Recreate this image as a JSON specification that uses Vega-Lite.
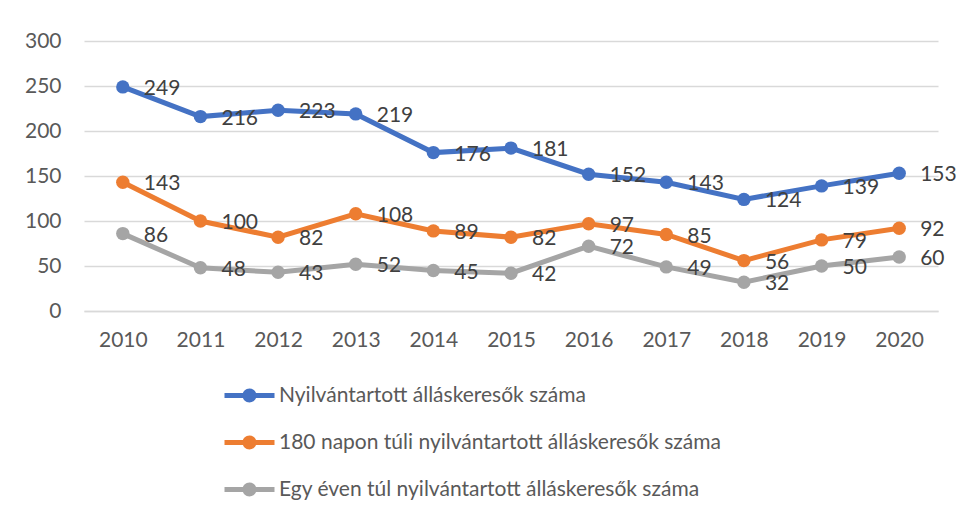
{
  "$schema": "https://vega.github.io/schema/vega-lite/v6.json",
  "width": 854,
  "height": 270,
  "autosize": "none",
  "padding": {"left": 84, "top": 41, "right": 18, "bottom": 202},
  "background": "white",
  "config": {
    "view": {"stroke": null},
    "font": "Lato",
    "axis": {"labelFont": "Lato", "labelFontSize": 21, "labelColor": "#595959", "ticks": false, "title": null}
  },
  "data": {
    "values": [
      {"year": "2010", "series": "Nyilvántartott álláskeresők száma", "value": 249},
      {"year": "2011", "series": "Nyilvántartott álláskeresők száma", "value": 216},
      {"year": "2012", "series": "Nyilvántartott álláskeresők száma", "value": 223},
      {"year": "2013", "series": "Nyilvántartott álláskeresők száma", "value": 219},
      {"year": "2014", "series": "Nyilvántartott álláskeresők száma", "value": 176},
      {"year": "2015", "series": "Nyilvántartott álláskeresők száma", "value": 181},
      {"year": "2016", "series": "Nyilvántartott álláskeresők száma", "value": 152},
      {"year": "2017", "series": "Nyilvántartott álláskeresők száma", "value": 143},
      {"year": "2018", "series": "Nyilvántartott álláskeresők száma", "value": 124},
      {"year": "2019", "series": "Nyilvántartott álláskeresők száma", "value": 139},
      {"year": "2020", "series": "Nyilvántartott álláskeresők száma", "value": 153},
      {"year": "2010", "series": "180 napon túli nyilvántartott álláskeresők száma", "value": 143},
      {"year": "2011", "series": "180 napon túli nyilvántartott álláskeresők száma", "value": 100},
      {"year": "2012", "series": "180 napon túli nyilvántartott álláskeresők száma", "value": 82},
      {"year": "2013", "series": "180 napon túli nyilvántartott álláskeresők száma", "value": 108},
      {"year": "2014", "series": "180 napon túli nyilvántartott álláskeresők száma", "value": 89},
      {"year": "2015", "series": "180 napon túli nyilvántartott álláskeresők száma", "value": 82},
      {"year": "2016", "series": "180 napon túli nyilvántartott álláskeresők száma", "value": 97},
      {"year": "2017", "series": "180 napon túli nyilvántartott álláskeresők száma", "value": 85},
      {"year": "2018", "series": "180 napon túli nyilvántartott álláskeresők száma", "value": 56},
      {"year": "2019", "series": "180 napon túli nyilvántartott álláskeresők száma", "value": 79},
      {"year": "2020", "series": "180 napon túli nyilvántartott álláskeresők száma", "value": 92},
      {"year": "2010", "series": "Egy éven túl nyilvántartott álláskeresők száma", "value": 86},
      {"year": "2011", "series": "Egy éven túl nyilvántartott álláskeresők száma", "value": 48},
      {"year": "2012", "series": "Egy éven túl nyilvántartott álláskeresők száma", "value": 43},
      {"year": "2013", "series": "Egy éven túl nyilvántartott álláskeresők száma", "value": 52},
      {"year": "2014", "series": "Egy éven túl nyilvántartott álláskeresők száma", "value": 45},
      {"year": "2015", "series": "Egy éven túl nyilvántartott álláskeresők száma", "value": 42},
      {"year": "2016", "series": "Egy éven túl nyilvántartott álláskeresők száma", "value": 72},
      {"year": "2017", "series": "Egy éven túl nyilvántartott álláskeresők száma", "value": 49},
      {"year": "2018", "series": "Egy éven túl nyilvántartott álláskeresők száma", "value": 32},
      {"year": "2019", "series": "Egy éven túl nyilvántartott álláskeresők száma", "value": 50},
      {"year": "2020", "series": "Egy éven túl nyilvántartott álláskeresők száma", "value": 60}
    ]
  },
  "encoding": {
    "x": {
      "field": "year", "type": "ordinal",
      "scale": {"type": "point", "padding": 0.5},
      "axis": {"labelAngle": 0, "labelPadding": 18, "domainColor": "#D9D9D9", "domainWidth": 1.5, "grid": false}
    },
    "y": {
      "field": "value", "type": "quantitative",
      "scale": {"domain": [0, 300], "nice": false},
      "axis": {"values": [0, 50, 100, 150, 200, 250, 300], "domain": false, "grid": true, "gridColor": "#D9D9D9", "gridWidth": 1.5, "labelPadding": 23}
    }
  },
  "layer": [
    {
      "mark": {"type": "line", "strokeWidth": 5},
      "encoding": {
        "color": {
          "field": "series", "type": "nominal",
          "scale": {
            "domain": ["Nyilvántartott álláskeresők száma", "180 napon túli nyilvántartott álláskeresők száma", "Egy éven túl nyilvántartott álláskeresők száma"],
            "range": ["#4472C4", "#ED7D31", "#A5A5A5"]
          },
          "legend": {
            "title": null,
            "orient": "none",
            "legendX": 155,
            "legendY": 344,
            "direction": "vertical",
            "symbolType": "M-2.5,-0.25H-0.6V0.25H-2.5Z M0.6,-0.25H2.5V0.25H0.6Z M-0.7,0A0.7,0.7 0 1,1 0.7,0A0.7,0.7 0 1,1 -0.7,0Z",
            "symbolSize": 400,
            "symbolStrokeWidth": 0,
            "labelOffset": 19,
            "rowPadding": 25,
            "labelFont": "Lato",
            "labelFontSize": 21,
            "labelColor": "#595959",
            "labelLimit": 600,
            "encode": {"symbols": {"update": {"fill": {"scale": "color", "field": "value"}, "fillOpacity": {"value": 1}, "strokeWidth": {"value": 0}}}}
          }
        }
      }
    },
    {
      "mark": {"type": "point", "filled": true, "size": 180, "opacity": 1},
      "encoding": {
        "color": {"field": "series", "type": "nominal", "legend": null}
      }
    },
    {
      "mark": {"type": "text", "align": "left", "baseline": "middle", "dx": 21, "dy": 2, "fontSize": 21, "font": "Lato", "color": "#404040"},
      "encoding": {
        "text": {"field": "value", "type": "quantitative"}
      }
    }
  ]
}
